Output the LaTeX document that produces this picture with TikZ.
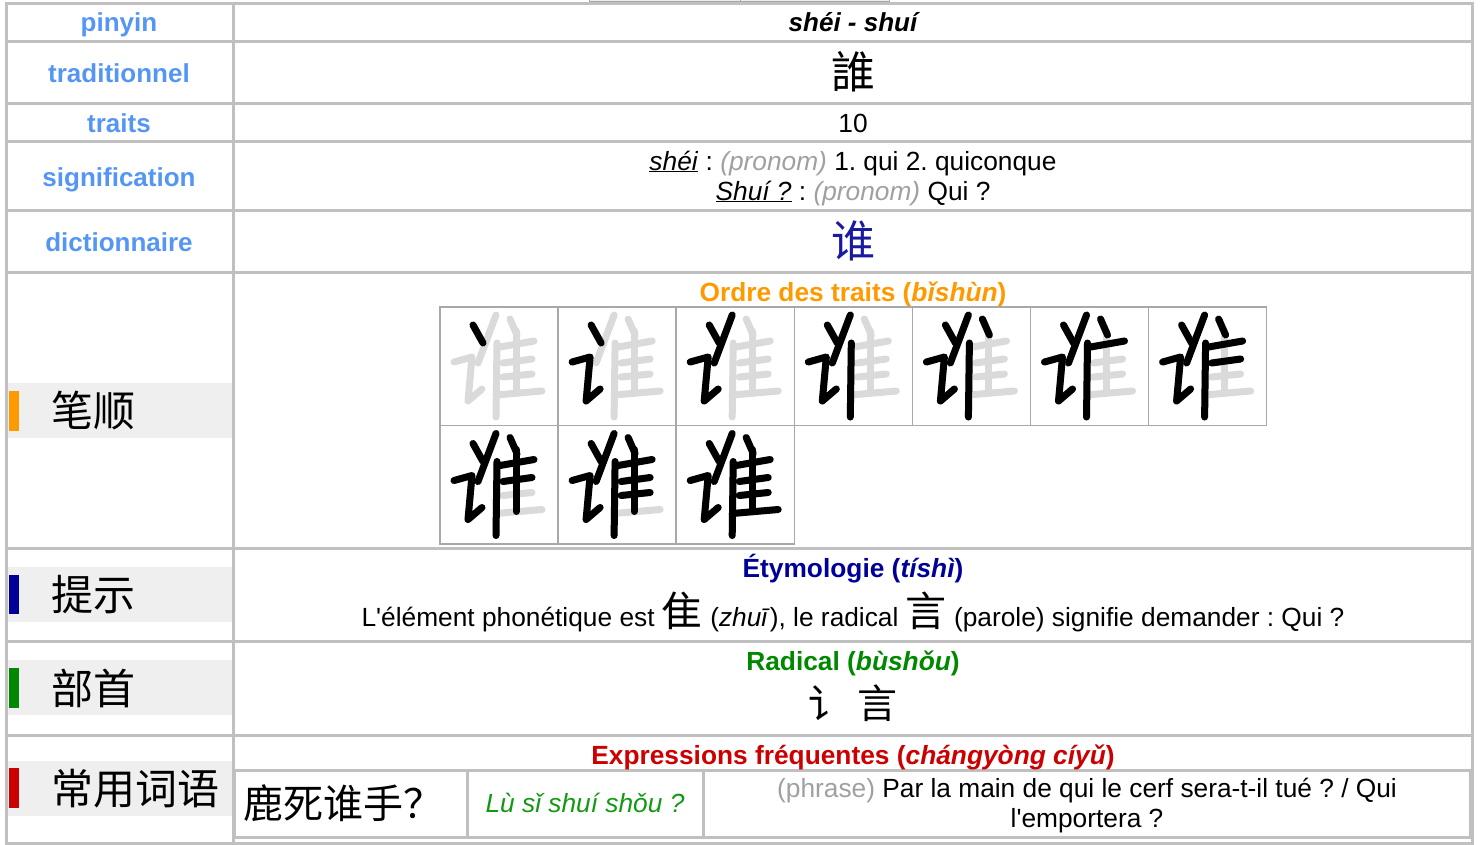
\documentclass[tikz,border=0pt]{standalone}
\usepackage{fontspec}
\setmainfont{Liberation Sans}
\newfontfamily\cjk{Noto Sans CJK SC}
\usetikzlibrary{positioning}
\frenchspacing

\definecolor{gridgray}{HTML}{C0C0C0}
\definecolor{bandgray}{HTML}{EFEFEF}
\definecolor{labelblue}{HTML}{5596F5}
\definecolor{ordreorange}{HTML}{FF9900}
\definecolor{etymblue}{HTML}{000099}
\definecolor{radgreen}{HTML}{008800}
\definecolor{exprred}{HTML}{CC0000}
\definecolor{pinyingreen}{HTML}{119911}
\definecolor{notegray}{HTML}{A0A0A0}
\definecolor{dictblue}{HTML}{1A1AA0}
\definecolor{strokegray}{HTML}{DADADA}
\definecolor{cellgray}{HTML}{A8A8A8}

\tikzset{
  rowlabel/.style={font=\fontsize{26}{30}\selectfont\bfseries, text=labelblue, anchor=base, inner sep=0pt},
  body/.style={font=\fontsize{26.3}{30}\selectfont, anchor=base, inner sep=0pt},
  cjklabel/.style={font=\cjk\fontsize{42}{42}\selectfont, anchor=west, inner sep=0pt},
  brush/.style={line width=7pt, line cap=round, line join=round},
}

% strokes of the character, in a 118 x 118 cell
\def\strokelist{1/{(33,18) -- (43,36)}, 2/{(14,55) -- (32,50) -- (28,94) -- (42,82)},
  3/{(56,8) -- (38,56)}, 4/{(57,36) -- (56,110)}, 5/{(70,12) -- (77,28)},
  6/{(60,40) -- (94,34)}, 7/{(63,56) -- (92,52)}, 8/{(76,24) -- (76,86)},
  9/{(63,70) -- (92,67)}, 10/{(56,88) -- (102,84)}}

\begin{document}
\begin{tikzpicture}[x=1pt,y=-1pt]
    \useasboundingbox (0,0) rectangle (1482,844);

    % Tab left over at the top
    \draw[cellgray, fill=gray!15] (589,-4) rectangle (889,1);
    \draw[cellgray] (740,-4) -- (740,1);

    % Grey bands behind the chinese labels
    \foreach \y in {383, 567, 660, 761}
        \fill[bandgray] (7,\y) rectangle (232,\y+55);
    \fill[ordreorange] (9,391) rectangle (19,431);
    \fill[etymblue] (9,575) rectangle (19,614);
    \fill[radgreen] (9,668) rectangle (19,708);
    \fill[exprred] (9,768) rectangle (19,808);

    % Draw table rules
    \draw[gridgray, line width=3pt] (6,3) rectangle (1472,843);
    \foreach \y in {41, 103, 141, 210, 272, 548, 641, 735}
        \draw[gridgray, line width=3pt] (6,\y) -- (1472,\y);
    \draw[gridgray, line width=3pt] (233,3) -- (233,843);

    % Inner table of the last row
    \draw[gridgray, line width=3pt] (234,770) rectangle (1470,837);
    \draw[gridgray, line width=3pt] (467,770) -- (467,837);
    \draw[gridgray, line width=3pt] (703,770) -- (703,837);

    % Row labels
    \node[rowlabel] (lpinyin) at (119,31) {pinyin};
    \node[rowlabel] (ltrad) at (119,82) {traditionnel};
    \node[rowlabel] (ltraits) at (119,132) {traits};
    \node[rowlabel] (lsens) at (119,186) {signification};
    \node[rowlabel] (ldict) at (119,251) {dictionnaire};
    \node[cjklabel] (lbishun) at (51,411) {笔顺};
    \node[cjklabel] (ltishi) at (51,595) {提示};
    \node[cjklabel] (lbushou) at (51,688) {部首};
    \node[cjklabel] (lciyu) at (51,789) {常用词语};

    % Right column
    \node[body, font=\fontsize{26}{30}\selectfont\bfseries\itshape] (pinyin) at (853,31) {shéi - shuí};
    \node[inner sep=0pt, font=\cjk\fontsize{44}{44}\selectfont] (trad) at (853,72) {誰};
    \node[body] (traits) at (853,132) {10};
    \node[body] (sens1) at (853,170) {\underline{\textit{shéi}} : \textcolor{notegray}{\textit{(pronom)}} 1. qui 2. quiconque};
    \node[body] (sens2) at (853,200) {\underline{\textit{Shuí ?}} : \textcolor{notegray}{\textit{(pronom)}} Qui ?};
    \node[inner sep=0pt, text=dictblue, font=\cjk\fontsize{44}{44}\selectfont] (dict) at (853,241) {谁};

    % Stroke order
    \node[body, text=ordreorange, font=\fontsize{26.3}{30}\selectfont\bfseries] (ordre) at (853,301) {Ordre des traits (\textit{bǐshùn})};
    \foreach \n in {1,...,10} {
        \pgfmathtruncatemacro{\col}{mod(\n-1,7)}
        \pgfmathtruncatemacro{\row}{(\n-1)/7}
        \begin{scope}[shift={(440+118.1*\col,307+118.5*\row)}]
            \draw[cellgray, line width=1.5pt] (0,0) rectangle (118.1,118.5);
            \foreach \s/\p in \strokelist
                \draw[brush, strokegray] \p;
            \foreach \s/\p in \strokelist {
                \ifnum\s>\n\else
                    \draw[brush, black] \p;
                \fi
            }
        \end{scope}
    }

    % Etymology
    \node[body, text=etymblue, font=\fontsize{26.3}{30}\selectfont\bfseries] (etym) at (853,577) {Étymologie (\textit{tíshì})};
    \node[body] (etymtext) at (853,626) {L\textquotesingle élément phonétique est {\cjk\fontsize{41}{41}\selectfont 隹} (\textit{zhuī}), le radical {\cjk\fontsize{41}{41}\selectfont 言} (parole) signifie demander : Qui ?};

    % Radical
    \node[body, text=radgreen, font=\fontsize{26.3}{30}\selectfont\bfseries] (radical) at (853,670) {Radical (\textit{bùshǒu})};
    \node[inner sep=0pt, font=\cjk\fontsize{40}{40}\selectfont] (radchars) at (853,703) {讠 言};

    % Expressions
    \node[body, text=exprred, font=\fontsize{26.3}{30}\selectfont\bfseries] (expr) at (853,764) {Expressions fréquentes (\textit{chángyòng cíyǔ})};
    \node[inner sep=0pt, anchor=west, font=\cjk\fontsize{40}{40}\selectfont] (exprzh) at (243,803) {鹿死谁手？};
    \node[body, text=pinyingreen, font=\fontsize{26.3}{30}\selectfont\itshape] (exprpy) at (585,812) {Lù sǐ shuí shǒu ?};
    \node[inner sep=0pt, align=center, font=\fontsize{26.3}{30}\selectfont] (exprfr) at (1087,806) {\textcolor{notegray}{(phrase)} Par la main de qui le cerf sera-t-il tué ? / Qui\\ l\textquotesingle emportera ?};
\end{tikzpicture}
\end{document}
